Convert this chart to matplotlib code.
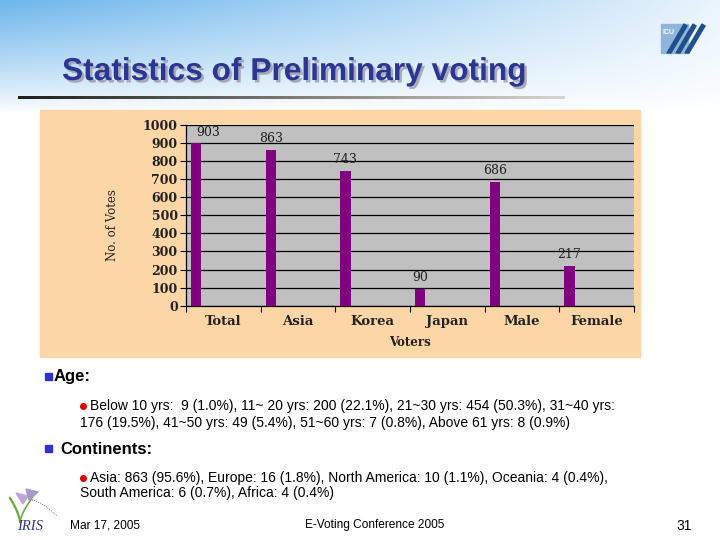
import numpy as np
import matplotlib.pyplot as plt
from matplotlib.patches import Rectangle, Polygon
import matplotlib.patheffects as pe

# data
categories = ["Total", "Asia", "Korea", "Japan", "Male", "Female"]
votes = [903, 863, 743, 90, 686, 217]
yticks = list(range(0, 1001, 100))

title = "Statistics of Preliminary voting"
age_line1 = "Below 10 yrs:  9 (1.0%), 11~ 20 yrs: 200 (22.1%), 21~30 yrs: 454 (50.3%), 31~40 yrs:"
age_line2 = "176 (19.5%), 41~50 yrs: 49 (5.4%), 51~60 yrs: 7 (0.8%), Above 61 yrs: 8 (0.9%)"
cont_line1 = "Asia: 863 (95.6%), Europe: 16 (1.8%), North America: 10 (1.1%), Oceania: 4 (0.4%),"
cont_line2 = "South America: 6 (0.7%), Africa: 4 (0.4%)"
footer_left = "Mar 17, 2005"
footer_mid = "E-Voting Conference 2005"
page_no = "31"

W, H = 720, 540
fig = plt.figure(figsize=(7.2, 5.4), dpi=100)

# background in pixel coordinates
bg = fig.add_axes([0, 0, 1, 1])
bg.set_xlim(0, W)
bg.set_ylim(H, 0)
bg.axis("off")

xx, yy = np.meshgrid(np.arange(W), np.arange(H))
t = np.clip(1 - yy / 112.0, 0, 1) * np.clip(1 - 0.9 * xx / W, 0, 1)
t = t ** 0.85
blue = np.array([110, 182, 236]) / 255.0
img = (1 - t[..., None]) * 1.0 + t[..., None] * blue
bg.imshow(img, extent=(0, W, H, 0), aspect="auto", zorder=0)

# title underline with grey fade
n = 300
xs = np.linspace(18, 565, n + 1)
for i in range(n):
    g = 0.12 + 0.72 * (i / n)
    bg.fill_between([xs[i], xs[i + 1]], 95.5, 98.5, color=(g, g, g), lw=0, zorder=1)

bg.text(62, 80, title, fontsize=22.8, fontweight="bold", family="Liberation Sans",
        color="#2D3592", va="baseline", ha="left", zorder=3,
        path_effects=[pe.withSimplePatchShadow(offset=(1.8, -1.8), shadow_rgbFace="#9a9aa8", alpha=0.8)])

# ICU logo
bg.add_patch(Rectangle((661, 24), 27, 29, color="#8FB6DA", zorder=2))
for k in range(3):
    x0 = 667 + k * 9
    bg.add_patch(Polygon([[x0, 53], [x0 + 4, 53], [x0 + 20, 26], [x0 + 17, 24]],
                         color="#1F4F8F", zorder=3))
bg.text(662.5, 32, "ICU", fontsize=5, fontweight="bold", color="white",
        family="Liberation Sans", va="center", ha="left", zorder=4)

# chart panel
bg.add_patch(Rectangle((40, 110), 600, 247, color="#FDD6A7", zorder=1))

left, right, top, bottom = 186, 634, 125, 305.7
ax = fig.add_axes([left / W, 1 - bottom / H, (right - left) / W, (bottom - top) / H])
ax.set_facecolor("#C0C0C0")
x = np.arange(len(categories))
ax.bar(x + 0.135, votes, width=0.14, color="#800080", zorder=3)
ax.set_xlim(0, len(categories))
ax.set_ylim(0, 1000)
ax.set_yticks(yticks)
ax.set_yticklabels([str(v) for v in yticks], family="DejaVu Serif", fontsize=9,
                   fontweight="bold", color="#222222")
ax.set_xticks(np.arange(len(categories) + 1))
ax.set_xticklabels([])
ax.tick_params(axis="x", length=4, width=0.8, direction="out")
ax.tick_params(axis="y", length=4, width=0.8, direction="out", pad=2)
for i, c in enumerate(categories):
    ax.text(i + 0.5, -85, c, ha="center", va="center", family="DejaVu Serif",
            fontweight="bold", fontsize=9.5, color="#222222")
ax.yaxis.grid(True, color="black", lw=0.9)
ax.set_axisbelow(True)
ax.spines["top"].set_visible(False)
ax.spines["right"].set_visible(False)
ax.spines["left"].set_linewidth(0.9)
ax.spines["bottom"].set_linewidth(0.9)
for i, v in enumerate(votes):
    if v > 880:
        ax.text(i + 0.135, v + 20, str(v), ha="left", va="bottom",
                family="DejaVu Serif", fontsize=9, color="#222222")
    else:
        ax.text(i + 0.135, v + 28, str(v), ha="center", va="bottom",
                family="DejaVu Serif", fontsize=9, color="#222222")

bg.text(113, 225, "No. of Votes", rotation=90, ha="center", va="center",
        family="DejaVu Serif", fontsize=8.5, color="#222222")
bg.text(410, 342, "Voters", ha="center", va="center", family="DejaVu Serif",
        fontweight="bold", fontsize=8.5, color="#222222")

# text bullets
sq = "#3333CC"
bg.add_patch(Rectangle((45, 372.5), 7, 7, color=sq, zorder=2))
bg.text(54, 376, "Age:", fontsize=12, fontweight="bold", family="Liberation Sans",
        va="center", ha="left")
bg.plot([83], [406], "o", color="#DD0000", ms=4)
bg.text(90, 406, age_line1, fontsize=10, family="Liberation Sans", va="center", ha="left")
bg.text(80, 422.5, age_line2, fontsize=10, family="Liberation Sans", va="center", ha="left")

bg.add_patch(Rectangle((45, 445), 7, 7, color=sq, zorder=2))
bg.text(60, 449, "Continents:", fontsize=12, fontweight="bold", family="Liberation Sans",
        va="center", ha="left")
bg.plot([83], [478], "o", color="#DD0000", ms=4)
bg.text(90, 478, cont_line1, fontsize=10, family="Liberation Sans", va="center", ha="left")
bg.text(80, 493.5, cont_line2, fontsize=10, family="Liberation Sans", va="center", ha="left")

# IRIS logo
tt = np.linspace(0, 1, 30)
bg.plot(20 - 10 * tt ** 1.5, 522 - 24 * tt, color="#6BAA3A", lw=1.6)
bg.plot(20 + 12 * tt, 522 - 24 * tt ** 0.7, color="#6BAA3A", lw=1.2)
bg.plot(32 + 25 * tt, 500 + 16 * tt ** 1.5, color="#555555", lw=0.6, ls=":")
bg.add_patch(Polygon([[16, 493], [28, 496], [23, 504]], color="#B9A8D8", zorder=2))
bg.add_patch(Polygon([[26, 489], [38, 492], [29, 500]], color="#A898CC", zorder=2))
bg.text(17, 526, "IRIS", fontsize=10.5, fontstyle="italic", family="Liberation Serif",
        color="#2D3592", va="center", ha="left")

# footer
bg.text(70, 525, footer_left, fontsize=8.6, family="Liberation Sans", va="center", ha="left")
bg.text(375, 525, footer_mid, fontsize=8.6, family="Liberation Sans", va="center", ha="center")
bg.text(692, 526, page_no, fontsize=10, family="Liberation Sans", va="center", ha="right")

fig.savefig("out.png", dpi=100)
